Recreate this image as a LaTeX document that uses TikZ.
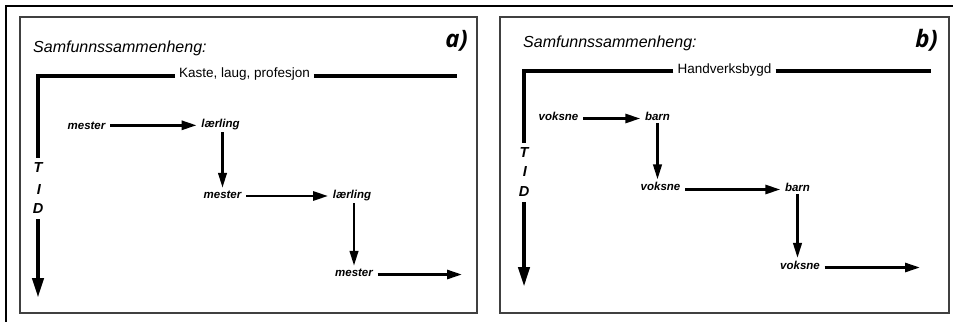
\documentclass[tikz,border=0pt]{standalone}
\usepackage{fontspec}
\setmainfont{Liberation Sans}
\newfontfamily\panelfont{Open Sans}
\usetikzlibrary{arrows.meta}
\tikzset{
  panelbox/.style={draw=black!75, line width=1.1pt},
  outerline/.style={draw=black, line width=1.4pt},
  heading/.style={inner sep=0pt, font=\itshape\fontsize{16}{18}\selectfont, anchor=base west},
  panelmark/.style={inner sep=0pt, font=\panelfont\bfseries\itshape\fontsize{24}{26}\selectfont, anchor=base east},
  setting/.style={inner xsep=4pt, inner ysep=0pt, font=\fontsize{13.5}{15}\selectfont, anchor=base},
  framebar/.style={draw=black, line width=4pt, line join=miter, line cap=butt},
  tidletter/.style={inner xsep=0pt, inner ysep=5pt, font=\bfseries\itshape\fontsize{14.5}{16}\selectfont},
  tidarrow/.style={draw=black, line width=4.2pt, -{Triangle[length=20pt,width=11pt]}},
  role/.style={inner xsep=4.5pt, inner ysep=2.5pt, font=\bfseries\itshape\fontsize{11.5}{13}\selectfont, anchor=base},
  flow/.style={draw=black, line width=2.8pt, -{Triangle[length=15pt,width=9pt]}},
  downflow/.style={draw=black, line width=2.5pt, -{Triangle[length=15pt,width=8.5pt]}}
}
\begin{document}
\begin{tikzpicture}[x=1pt,y=-1pt]
\useasboundingbox (0,0) rectangle (953,322);
\fill[white] (0,0) rectangle (953,322);
% outer frame
\coordinate (oc) at (6,6);
\coordinate (otr) at (953,6);
\coordinate (obl) at (6,322);
\draw[outerline] (otr) -- (oc) -- (obl);
% panel boxes
\draw[panelbox] (20,17) rectangle (477,313);
\draw[panelbox] (500,17) rectangle (949,313);

% ---------- panel a ----------
\node[heading] (sama) at (33,52) {Samfunnssammenheng:};
\node[panelmark] (marka) at (468,47) {a)};
\node[setting] (kaste) at (244.5,77) {Kaste, laug, profesjon};
\coordinate (ca) at (38,76);
\coordinate (ea) at (457,76);
\node[tidletter] (Ta) at (38,168) {T};
\node[tidletter] (Ia) at (39,190) {I};
\node[tidletter] (Da) at (38,209) {D};
\coordinate (tipa) at (39,298);
\draw[framebar] (ca -| kaste.west) -- (ca) -- (ca |- Ta.north);
\draw[framebar] (ca -| kaste.east) -- (ea);
\draw[tidarrow] (Da.south) -- (Da.south |- tipa);

\node[role] (m1) at (86.5,129) {mester};
\node[role] (l1) at (220.5,127) {lærling};
\node[role] (m2) at (222.5,198) {mester};
\node[role] (l2) at (352,198) {lærling};
\node[role] (m3) at (354,276) {mester};
\coordinate (enda) at (462,275);
\draw[flow] (m1.east) -- (m1.east -| l1.west);
\draw[downflow] (l1.south -| m2.north) -- (m2.north);
\draw[flow] ([yshift=2pt]m2.base east) -- ([yshift=2pt]m2.base east -| l2.west);
\draw[downflow] (l2.south -| m3.north) -- (m3.north);
\draw[flow] ([yshift=1.5pt]m3.base east) -- ([yshift=1.5pt]m3.base east -| enda);

% ---------- panel b ----------
\node[heading] (samb) at (523,47) {Samfunnssammenheng:};
\node[panelmark] (markb) at (938,47) {b)};
\node[setting] (handv) at (724.5,73) {Handverksbygd};
\coordinate (cb) at (524,70.5);
\coordinate (eb) at (931,70.5);
\node[tidletter] (Tb) at (524,153) {T};
\node[tidletter] (Ib) at (525,172) {I};
\node[tidletter] (Db) at (524,192) {D};
\coordinate (tipb) at (524,287);
\draw[framebar] (cb -| handv.west) -- (cb) -- (cb |- Tb.north);
\draw[framebar] (cb -| handv.east) -- (eb);
\draw[tidarrow] (Db.south) -- (Db.south |- tipb);

\node[role] (v1) at (558.5,120) {voksne};
\node[role] (b1) at (657.5,120) {barn};
\node[role] (v2) at (660.5,190.5) {voksne};
\node[role] (b2) at (797.5,191) {barn};
\node[role] (v3) at (800,269) {voksne};
\coordinate (endb) at (920,268);
\draw[flow] ([yshift=1.5pt]v1.base east) -- ([yshift=1.5pt]v1.base east -| b1.west);
\draw[downflow] (b1.south) -- (b1.south |- v2.north);
\draw[flow] ([yshift=1pt]v2.base east) -- ([yshift=1pt]v2.base east -| b2.west);
\draw[downflow] (b2.south) -- (b2.south |- v3.north);
\draw[flow] ([yshift=1.5pt]v3.base east) -- ([yshift=1.5pt]v3.base east -| endb);
\end{tikzpicture}
\end{document}
